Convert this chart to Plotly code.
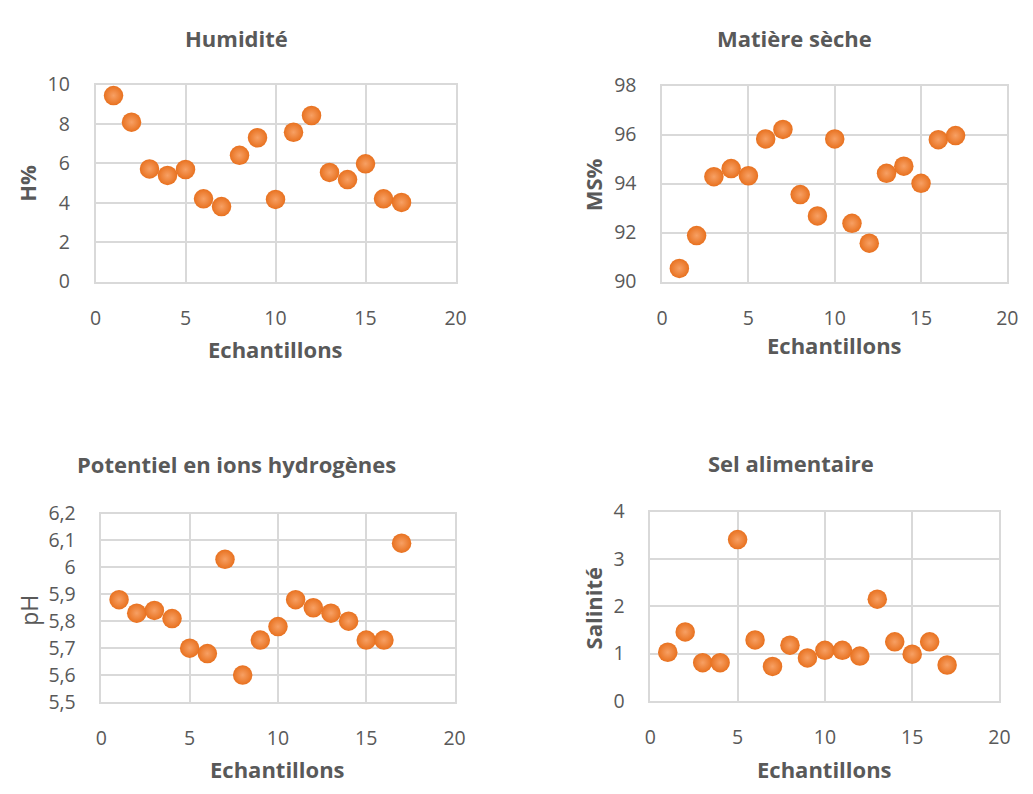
import plotly.graph_objects as go

echantillons = list(range(1, 18))
humidite = [9.44, 8.09, 5.72, 5.39, 5.69, 4.20, 3.81, 6.41, 7.30, 4.17, 7.58, 8.43, 5.54, 5.18, 5.98, 4.20, 4.02]
matiere_seche = [90.54, 91.88, 94.28, 94.61, 94.32, 95.82, 96.21, 93.55, 92.68, 95.82, 92.38, 91.57, 94.42, 94.71, 94.01, 95.79, 95.96]
ph = [5.88, 5.83, 5.84, 5.81, 5.70, 5.68, 6.03, 5.60, 5.73, 5.78, 5.88, 5.85, 5.83, 5.80, 5.73, 5.73, 6.09]
salinite = [1.03, 1.46, 0.81, 0.81, 3.41, 1.29, 0.73, 1.18, 0.91, 1.07, 1.07, 0.95, 2.15, 1.25, 0.99, 1.25, 0.76]

titles = ["Humidité", "Matière sèche", "Potentiel en ions hydrogènes", "Sel alimentaire"]
ytitles = ["H%", "MS%", "pH", "Salinité"]
ytitle_bold = [True, True, False, True]
xtitle = "Echantillons"
yranges = [(0, 10, 2), (90, 98, 2), (5.5, 6.2, 0.1), (0, 4, 1)]
series = [humidite, matiere_seche, ph, salinite]

# canvas slightly larger than the 1033x794 window (the overflow is off-screen white)
W, H = 1040, 800
# plot areas in window pixels: (left, right, top, bottom)
areas = [(91, 457, 73, 277), (667, 1018, 74, 277), (97, 456, 517, 712), (655, 1010, 515, 711)]
title_pos = [(234, 25), (802, 25), (234, 466), (798, 465)]
ytitle_pos = [(21, 175), (597, 177), (24, 617), (597, 615)]
xtitle_pos = [(274, 347), (842, 343), (276, 781), (832, 781)]


def px(x):
    return x / W


def py(y):
    return 1 - y / H


FONT = "Open Sans"
GREY = "#595959"
GRID = "#D9D9D9"

fig = go.Figure()
layout = dict(
    width=W, height=H, margin=dict(l=0, r=0, t=0, b=0),
    paper_bgcolor="white", plot_bgcolor="white", showlegend=False,
    separators=", ", font=dict(family=FONT, color=GREY, size=18),
)
annotations = []
for i in range(4):
    l, r, t, b = areas[i]
    sfx = "" if i == 0 else str(i + 1)
    xa, ya = "x" + sfx, "y" + sfx
    fig.add_trace(go.Scatter(
        x=echantillons, y=series[i], mode="markers", xaxis=xa, yaxis=ya,
        marker=dict(size=19.5, color="#E8711F",
                    gradient=dict(type="radial", color="#F7A064"),
                    line=dict(width=0)),
        cliponaxis=False,
    ))
    y0, y1, dy = yranges[i]
    layout["xaxis" + sfx] = dict(
        domain=[px(l), px(r)], range=[0, 20], dtick=5, tick0=0,
        anchor=ya, showgrid=True, gridcolor=GRID, gridwidth=1.5,
        showline=True, linecolor=GRID, linewidth=1.5, mirror=True,
        zeroline=False, ticks="", ticklabelstandoff=18,
        tickfont=dict(family=FONT, size=19.5, color=GREY), fixedrange=True,
    )
    layout["yaxis" + sfx] = dict(
        domain=[py(b), py(t)], range=[y0, y1], dtick=dy, tick0=y0,
        anchor=xa, showgrid=True, gridcolor=GRID, gridwidth=1.5,
        showline=True, linecolor=GRID, linewidth=1.5, mirror=True,
        zeroline=False, ticks="", ticklabelstandoff=20,
        tickfont=dict(family=FONT, size=19.5, color=GREY), fixedrange=True,
    )
    tx, ty = title_pos[i]
    annotations.append(dict(
        text="<b>" + titles[i] + "</b>", x=px(tx), y=py(ty), xref="paper", yref="paper",
        xanchor="center", yanchor="middle", showarrow=False,
        font=dict(family=FONT, size=22, color=GREY)))
    yx, yy = ytitle_pos[i]
    annotations.append(dict(
        text=("<b>" + ytitles[i] + "</b>") if ytitle_bold[i] else ytitles[i],
        x=px(yx), y=py(yy), xref="paper", yref="paper",
        xanchor="center", yanchor="middle", showarrow=False, textangle=-90,
        font=dict(family=FONT, size=22 if ytitle_bold[i] else 23, color=GREY)))
    xx, xy = xtitle_pos[i]
    annotations.append(dict(
        text="<b>" + xtitle + "</b>", x=px(xx), y=py(xy), xref="paper", yref="paper",
        xanchor="center", yanchor="middle", showarrow=False,
        font=dict(family=FONT, size=22, color=GREY)))

layout["annotations"] = annotations
fig.update_layout(**layout)
fig.write_html("out.html")
